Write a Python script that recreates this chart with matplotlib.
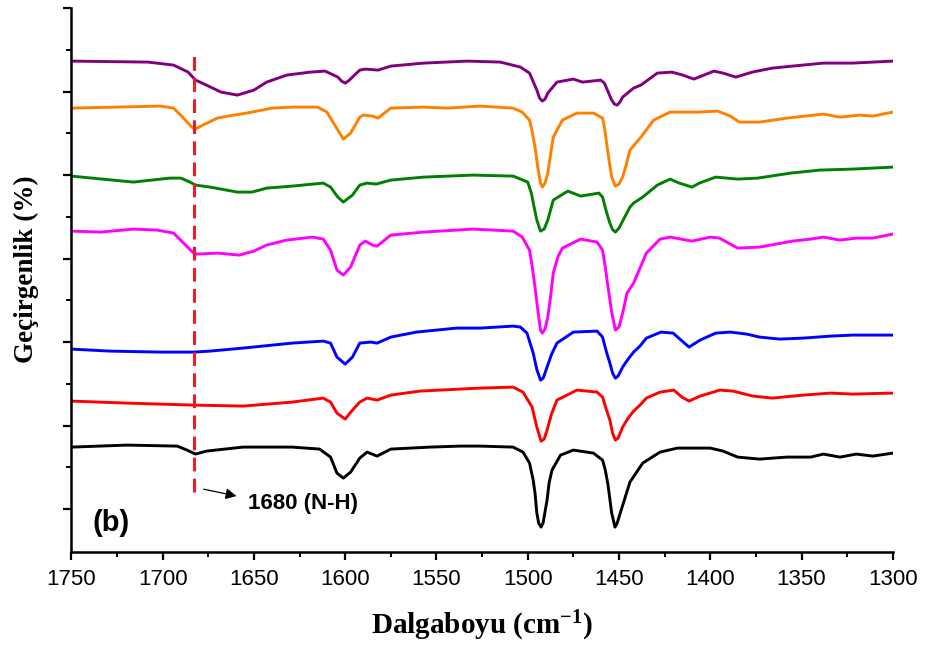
import matplotlib
matplotlib.use("Agg")
import matplotlib.pyplot as plt
from matplotlib.ticker import MultipleLocator, FixedLocator

plt.rcParams["mathtext.fontset"] = "custom"
plt.rcParams["mathtext.rm"] = "Liberation Serif:bold"

# FTIR spectra, wavenumber (cm-1) vs transmittance (a.u., traces offset)
wn_purple = [1750, 1708, 1694, 1686, 1682, 1676, 1668, 1659, 1650, 1643, 1632, 1619, 1611, 1604, 1602, 1600,
             1598, 1596, 1592, 1589, 1582, 1575, 1557, 1533, 1515, 1504, 1499, 1495, 1493.5, 1492, 1490.5,
             1489, 1484, 1475, 1470, 1460, 1458, 1454, 1452.5, 1451, 1449.5, 1448, 1442, 1438, 1429, 1421,
             1415, 1409, 1398, 1393, 1386, 1377, 1366, 1355, 1338, 1322, 1300]
t_purple = [98.2, 98.0, 97.4, 96.0, 94.4, 93.4, 92.0, 91.4, 92.4, 94.0, 95.4, 96.0, 96.2, 95.0, 94.2, 93.8,
            94.3, 95.0, 96.4, 96.6, 96.4, 97.2, 97.8, 98.2, 98.0, 97.0, 95.8, 92.4, 90.8, 90.2, 90.6,
            91.8, 94.0, 94.6, 94.0, 94.4, 93.8, 90.4, 89.6, 89.4, 90.0, 91.0, 92.8, 93.4, 95.8, 96.0,
            95.4, 94.6, 96.2, 95.8, 95.0, 96.0, 96.8, 97.2, 97.8, 97.8, 98.2]

wn_orange = [1750, 1701, 1694, 1689, 1684, 1682, 1678, 1670, 1661, 1654, 1640, 1629, 1615, 1610, 1605, 1601,
             1597, 1592, 1590, 1585, 1582, 1575, 1557, 1544, 1526, 1508, 1503, 1499, 1497.5, 1496, 1494.5,
             1493, 1492, 1490.5, 1489, 1487.5, 1486, 1481, 1473, 1464, 1459, 1458, 1457, 1455.5, 1454, 1452,
             1450, 1448, 1446, 1444, 1438, 1431, 1422, 1407, 1396, 1389, 1384, 1373, 1358, 1338, 1329, 1318,
             1311, 1300]
t_orange = [88.8, 89.2, 88.8, 87.0, 85.0, 84.6, 85.4, 86.8, 87.4, 87.8, 88.8, 89.0, 89.0, 88.0, 85.0, 82.6,
            83.8, 87.0, 87.4, 87.2, 86.8, 88.8, 89.0, 88.8, 89.2, 88.8, 88.0, 86.4, 84.0, 81.0, 77.0,
            73.8, 73.0, 73.8, 75.8, 79.5, 83.0, 86.4, 87.8, 87.8, 86.8, 85.0, 82.4, 78.5, 75.0, 73.2,
            73.6, 75.0, 77.5, 80.4, 83.0, 86.4, 88.0, 88.0, 88.2, 87.2, 86.0, 86.0, 86.8, 87.6, 87.0, 87.4,
            87.2, 88.0]

wn_green = [1750, 1733, 1716, 1696, 1690, 1685, 1682, 1674, 1659, 1651, 1643, 1629, 1612, 1608, 1604, 1601,
            1596, 1592, 1588, 1583, 1575, 1557, 1530, 1508, 1500, 1498, 1496.5, 1495, 1493, 1491, 1489,
            1487.5, 1486, 1478, 1471, 1461, 1459, 1457, 1455, 1453.5, 1452, 1450, 1448, 1444, 1442, 1437,
            1429, 1422, 1417, 1410, 1406, 1397, 1385, 1374, 1356, 1340, 1322, 1300]
t_green = [75.2, 74.6, 74.0, 74.8, 74.8, 74.0, 73.4, 73.0, 72.0, 72.0, 72.8, 73.2, 73.8, 73.0, 71.0, 70.0,
           71.4, 73.4, 73.8, 73.6, 74.4, 75.0, 75.4, 75.2, 74.0, 71.8, 69.0, 66.4, 64.2, 64.6, 66.4,
           68.4, 70.4, 72.2, 71.2, 71.8, 71.0, 68.2, 65.8, 64.5, 64.0, 64.8, 66.2, 69.0, 69.8, 71.0,
           73.4, 74.6, 73.8, 73.0, 73.8, 75.0, 74.6, 74.8, 75.8, 76.4, 76.6, 77.0]

wn_magenta = [1750, 1734, 1716, 1703, 1694, 1689, 1683, 1681, 1670, 1658, 1650, 1643, 1632, 1618, 1612, 1608,
              1604.5, 1601, 1597, 1592, 1589, 1585, 1582.5, 1575, 1557, 1530, 1508, 1503, 1499, 1497.5, 1496,
              1494.5, 1493, 1492, 1490.5, 1489, 1487.5, 1486, 1483.5, 1481, 1471, 1462, 1459, 1457.5, 1456,
              1454, 1452, 1450, 1448, 1445.6, 1442, 1438.5, 1435, 1427.5, 1422, 1410, 1400, 1395, 1385, 1373,
              1355, 1345, 1338, 1329, 1320, 1311, 1300]
t_magenta = [64.2, 64.0, 64.6, 64.4, 63.8, 62.0, 59.8, 59.6, 59.8, 59.4, 60.2, 61.4, 62.4, 63.0, 62.6, 60.4,
             56.4, 55.4, 57.0, 61.4, 62.2, 61.4, 61.2, 63.4, 64.0, 64.6, 64.2, 63.0, 60.4, 57.0, 53.0,
             48.5, 44.4, 43.8, 44.6, 47.0, 51.0, 55.8, 59.0, 60.8, 62.6, 62.0, 60.4, 57.0, 53.0,
             48.0, 44.4, 45.0, 47.8, 51.8, 53.8, 56.8, 59.8, 62.6, 63.0, 62.2, 63.0, 62.8, 60.8, 61.0,
             62.2, 62.6, 63.0, 62.4, 62.8, 62.8, 63.6]

wn_blue = [1750, 1729, 1701, 1683, 1674, 1656, 1629, 1612, 1608, 1604.5, 1600, 1596, 1592, 1586, 1582.5, 1575,
           1561, 1539, 1526, 1508, 1504, 1500.4, 1497, 1495, 1493, 1491.5, 1489.4, 1487, 1484, 1475, 1462,
           1459, 1457, 1455, 1453.5, 1452, 1450.5, 1448, 1445, 1442, 1438.5, 1435, 1427, 1420.4, 1416,
           1411.6, 1405.6, 1397, 1389, 1380, 1373, 1362, 1349, 1334, 1322, 1300]
t_blue = [40.6, 40.2, 40.0, 40.0, 40.2, 40.8, 41.8, 42.2, 41.8, 39.0, 37.6, 39.0, 41.8, 42.0, 41.8, 43.0,
          44.0, 44.8, 44.8, 45.2, 45.0, 43.8, 39.8, 36.5, 34.4, 34.8, 37.0, 39.5, 41.8, 44.0, 44.2,
          43.0, 40.2, 37.8, 35.8, 34.8, 35.2, 37.0, 38.6, 40.0, 41.2, 42.8, 44.0, 43.8, 42.4,
          41.0, 42.4, 43.8, 44.0, 43.6, 43.0, 42.6, 42.8, 43.2, 43.4, 43.4]

wn_red = [1750, 1719.5, 1683, 1656, 1629, 1612, 1608, 1604.5, 1600, 1596, 1592, 1588, 1582.5, 1575, 1559, 1537,
          1526, 1508, 1502.6, 1497.6, 1495, 1492.7, 1491, 1489.4, 1487, 1484, 1473, 1462, 1459, 1457, 1455,
          1453.5, 1452, 1450.5, 1448, 1445, 1442, 1438.5, 1435, 1427.5, 1420, 1415.5, 1411.6, 1405.6, 1394.7,
          1387.5, 1376.6, 1366, 1349, 1334, 1322, 1300]
t_red = [30.2, 29.8, 29.4, 29.2, 30.0, 30.8, 30.0, 27.8, 26.6, 28.4, 30.0, 30.8, 30.4, 31.4, 32.2, 32.6,
         32.8, 33.0, 32.0, 29.0, 25.0, 22.2, 22.6, 24.4, 27.6, 30.4, 32.4, 32.0, 31.0, 28.6, 26.4,
         23.8, 22.4, 22.8, 25.0, 26.8, 28.2, 29.4, 30.8, 32.0, 32.4, 31.0, 30.2, 31.2, 32.4,
         32.2, 31.2, 30.8, 31.4, 31.8, 31.6, 31.8]

wn_black = [1750, 1719.5, 1692, 1686.6, 1682, 1676, 1656, 1629, 1614, 1608, 1604.5, 1601, 1597, 1592, 1588,
            1582.5, 1575, 1553.5, 1537, 1526, 1508, 1502.6, 1499, 1497, 1496, 1495, 1494, 1492.7, 1491.6,
            1489.4, 1488.3, 1486.7, 1482, 1475, 1464, 1459, 1457.5, 1456, 1454, 1452.2, 1451, 1448.3, 1444,
            1437, 1427.5, 1418, 1400, 1393, 1385, 1373, 1358, 1345, 1338, 1329, 1320, 1311, 1300]
t_black = [21.0, 21.4, 21.2, 20.4, 19.6, 20.2, 21.0, 21.0, 20.6, 19.0, 15.8, 14.8, 16.0, 18.8, 20.0,
           19.2, 20.6, 21.0, 21.2, 21.2, 21.0, 20.0, 17.8, 14.4, 11.8, 7.8, 5.8, 5.0, 5.8,
           10.4, 13.8, 16.4, 19.4, 20.4, 19.8, 18.4, 16.4, 13.4, 7.8, 5.0, 5.8, 9.0, 14.0,
           17.8, 20.0, 20.8, 20.8, 20.2, 19.0, 18.6, 19.0, 19.0, 19.6, 19.0, 19.6, 19.2, 19.8]

nh_band = 1683
xticks = [1750, 1700, 1650, 1600, 1550, 1500, 1450, 1400, 1350, 1300]

fig = plt.figure(figsize=(9.31, 6.48), dpi=100)
ax = fig.add_axes([0.0766, 0.148, 0.8824, 0.8395])

for xs, ys, c in (
    (wn_purple, t_purple, "#800080"),
    (wn_orange, t_orange, "#ff8000"),
    (wn_green, t_green, "#008000"),
    (wn_magenta, t_magenta, "#ff00ff"),
    (wn_blue, t_blue, "#0000ff"),
    (wn_red, t_red, "#ff0000"),
    (wn_black, t_black, "#000000"),
):
    ax.plot(xs, ys, color=c, lw=2.1, solid_joinstyle="round", solid_capstyle="round")

ax.plot([nh_band, nh_band], [12, 100.4], color="#ee1c24", lw=2.2, linestyle=(0, (4.5, 2.4)))
ax.annotate("", xy=(1658, 11.1), xytext=(1679, 12.7),
            arrowprops=dict(arrowstyle="-|>", color="black", lw=0.9, mutation_scale=16))
ax.text(1653, 9.8, "1680 (N-H)", fontsize=16, fontweight="bold", family="Liberation Sans",
        va="center", ha="left")
ax.text(0.026, 0.053, "(b)", transform=ax.transAxes, fontsize=21, fontweight="bold",
        family="Liberation Sans", va="center", ha="left")

ax.set_xlim(1750, 1300)
ax.set_ylim(0, 108.8)
ax.set_xticks(xticks)
ax.xaxis.set_minor_locator(MultipleLocator(25))
ax.yaxis.set_major_locator(FixedLocator([8.6, 25.3, 42.0, 58.7, 75.4, 92.1, 108.8]))
ax.yaxis.set_minor_locator(FixedLocator([16.95, 33.65, 50.35, 67.05, 83.75, 100.45]))
ax.set_yticklabels([])
for s in ("top", "right"):
    ax.spines[s].set_visible(False)
for s in ("left", "bottom"):
    ax.spines[s].set_linewidth(1.8)
ax.tick_params(which="major", direction="out", length=6, width=1.6, labelsize=16, pad=6)
ax.tick_params(which="minor", direction="out", length=3.5, width=1.4)
for lab in ax.get_xticklabels():
    lab.set_family("Liberation Sans")

ax.set_xlabel(r"Dalgaboyu (cm$\mathregular{^{-1}}$)", fontsize=21, fontweight="bold",
              family="Liberation Serif", labelpad=14)
ax.set_ylabel("Geçirgenlik (%)", fontsize=19.5, fontweight="bold", family="Liberation Serif")
ax.yaxis.set_label_coords(-0.039, 0.52)

fig.savefig("out.png", dpi=100)
